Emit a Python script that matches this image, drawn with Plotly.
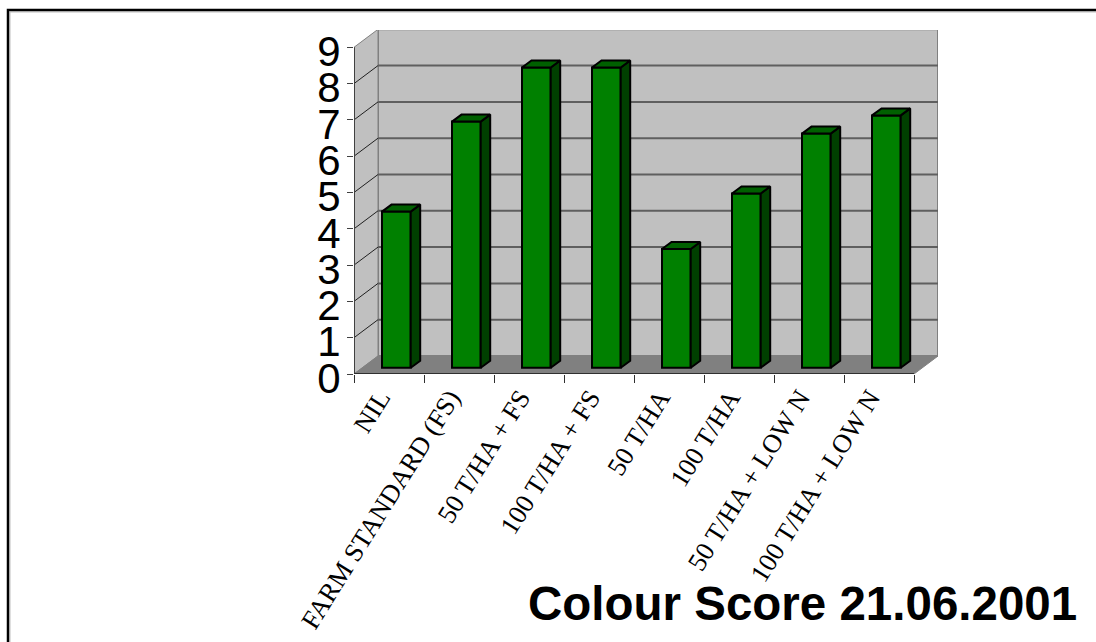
"""Colour score by treatment, drawn as a fake-3D column chart."""

import plotly.graph_objects as go

categories = [
    "NIL",
    "FARM STANDARD (FS)",
    "50 T/HA + FS",
    "100 T/HA + FS",
    "50 T/HA",
    "100 T/HA",
    "50 T/HA + LOW N",
    "100 T/HA + LOW N",
]
colour_score = [4.3, 6.78, 8.27, 8.27, 3.27, 4.8, 6.45, 6.95]
y_ticks = [0, 1, 2, 3, 4, 5, 6, 7, 8, 9]
title_text = "Colour Score 21.06.2001"

# pixel geometry of the front plane
WIDTH, HEIGHT = 1096, 642
LEFT, RIGHT, TOP, BOTTOM = 354, 938, 30, 374
X_UNIT = 70.0
Y_UNIT = 36.3

# depth of the box and of each column, in axis units
DEPTH_X = 24 / X_UNIT
DEPTH_Y = 18 / Y_UNIT
BAR_DEPTH_X = 9.5 / X_UNIT
BAR_DEPTH_Y = 7 / Y_UNIT
BAR_LEFT = 0.40
BAR_WIDTH = 0.41
BAR_BASE = 6.3 / Y_UNIT

n_cat = len(categories)
y_max = y_ticks[-1]


def paper_x(px):
    return (px - LEFT) / (RIGHT - LEFT)


def paper_y(px):
    return 1 - (px - TOP) / (BOTTOM - TOP)


def polygon_shape(xs, ys, fill, line_color, line_width=2):
    path = "M " + " L ".join(f"{x},{y}" for x, y in zip(xs, ys)) + " Z"
    return dict(
        type="path",
        path=path,
        fillcolor=fill,
        line=dict(color=line_color, width=line_width),
        layer="below",
    )


def line_shape(x0, y0, x1, y1, color, width):
    return dict(
        type="line",
        x0=x0,
        y0=y0,
        x1=x1,
        y1=y1,
        line=dict(color=color, width=width),
        layer="below",
    )


def frame_shape(offset, color, width):
    # left and top edges of the picture frame, the others fall off the page
    x = paper_x(8 + offset)
    y = paper_y(10 + offset)
    return dict(
        type="path",
        xref="paper",
        yref="paper",
        path=f"M {x},{paper_y(HEIGHT)} L {x},{y} L {paper_x(WIDTH)},{y}",
        line=dict(color=color, width=width),
    )


shapes = [
    # back wall
    polygon_shape(
        [DEPTH_X, n_cat + DEPTH_X, n_cat + DEPTH_X, DEPTH_X],
        [DEPTH_Y, DEPTH_Y, y_max + DEPTH_Y, y_max + DEPTH_Y],
        "#c0c0c0",
        "#808080",
    ),
    # side wall
    polygon_shape(
        [0, DEPTH_X, DEPTH_X, 0],
        [0, DEPTH_Y, y_max + DEPTH_Y, y_max],
        "#c0c0c0",
        "#808080",
        1,
    ),
    # floor
    polygon_shape(
        [0, n_cat, n_cat + DEPTH_X, DEPTH_X],
        [0, 0, DEPTH_Y, DEPTH_Y],
        "#808080",
        "#808080",
        1,
    ),
]
for v in y_ticks[1:-1]:
    shapes.append(
        line_shape(DEPTH_X, v + DEPTH_Y, n_cat + DEPTH_X, v + DEPTH_Y, "#5f5f5f", 2)
    )
    shapes.append(line_shape(0, v, DEPTH_X, v + DEPTH_Y, "#202020", 1))
shapes.append(line_shape(0, 0, 0, y_max, "#404040", 2))
shapes.append(line_shape(0, 0, n_cat, 0, "#303030", 2))
shapes.append(frame_shape(2, "#c0c0c0", 1))
shapes.append(frame_shape(0, "black", 2.5))

fig = go.Figure()

bar_x = [i + BAR_LEFT + BAR_WIDTH / 2 for i in range(n_cat)]
fig.add_trace(
    go.Bar(
        x=bar_x,
        y=colour_score,
        base=BAR_BASE,
        width=BAR_WIDTH,
        marker=dict(color="#008000", line=dict(color="black", width=2)),
    )
)

for i, value in enumerate(colour_score):
    x0 = i + BAR_LEFT
    x1 = x0 + BAR_WIDTH
    top = BAR_BASE + value
    # right side of the column
    fig.add_trace(
        go.Scatter(
            x=[x1, x1 + BAR_DEPTH_X, x1 + BAR_DEPTH_X, x1, x1],
            y=[
                BAR_BASE,
                BAR_BASE + BAR_DEPTH_Y,
                top + BAR_DEPTH_Y,
                top,
                BAR_BASE,
            ],
            mode="lines",
            fill="toself",
            fillcolor="#004000",
            line=dict(color="black", width=2),
        )
    )
    # top of the column
    fig.add_trace(
        go.Scatter(
            x=[x0, x1, x1 + BAR_DEPTH_X, x0 + BAR_DEPTH_X, x0],
            y=[top, top, top + BAR_DEPTH_Y, top + BAR_DEPTH_Y, top],
            mode="lines",
            fill="toself",
            fillcolor="#006000",
            line=dict(color="black", width=2),
        )
    )

fig.add_annotation(
    text=f"<b>{title_text}</b>",
    xref="paper",
    yref="paper",
    x=paper_x(1079),
    y=paper_y(620),
    xanchor="right",
    yanchor="bottom",
    yshift=-12,
    showarrow=False,
    font=dict(family="Liberation Sans", size=47.5, color="black"),
)

fig.update_xaxes(
    range=[0, (RIGHT - LEFT) / X_UNIT],
    tickmode="array",
    tickvals=[i + 0.5 for i in range(n_cat)],
    ticktext=categories,
    tickangle=-58,
    ticklen=0,
    ticks="",
    ticklabelshift=-9,
    ticklabelstandoff=2,
    tickfont=dict(family="Liberation Serif", size=26.5, color="black"),
    minor=dict(
        tickmode="array",
        tickvals=list(range(n_cat + 1)),
        ticks="outside",
        ticklen=8,
        tickwidth=1,
        tickcolor="#303030",
        showgrid=False,
    ),
    showgrid=False,
    zeroline=False,
    showline=False,
)
fig.update_yaxes(
    range=[0, (BOTTOM - TOP) / Y_UNIT],
    tickmode="array",
    tickvals=y_ticks,
    ticks="outside",
    ticklen=6,
    tickwidth=1,
    tickcolor="#404040",
    tickfont=dict(family="Liberation Sans", size=42, color="black"),
    ticklabelshift=4,
    ticklabelstandoff=-2,
    showgrid=False,
    zeroline=False,
    showline=False,
)
fig.update_layout(
    width=WIDTH,
    height=HEIGHT,
    margin=dict(l=LEFT, r=WIDTH - RIGHT, t=TOP, b=HEIGHT - BOTTOM, autoexpand=False),
    paper_bgcolor="white",
    plot_bgcolor="white",
    showlegend=False,
    shapes=shapes,
)

fig.write_html(
    "out.html",
    config={"displayModeBar": False},
    post_script="document.body.style.margin='0';",
)
